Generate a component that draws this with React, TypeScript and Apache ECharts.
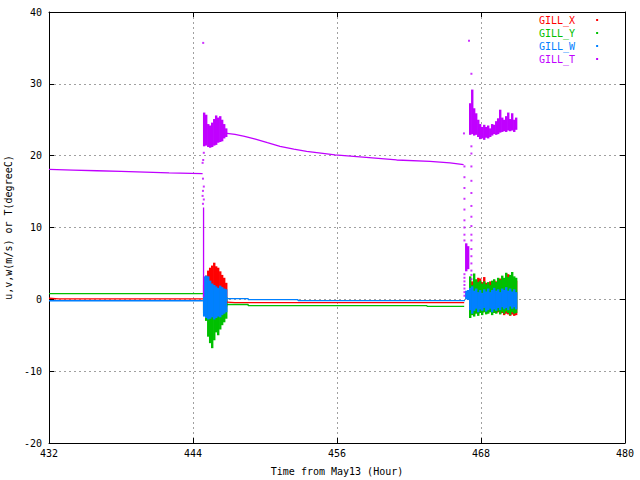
import React, { useEffect, useRef } from "react";
import * as echarts from "echarts";

// ---- axis ticks ----
const X_MIN = 432;
const X_MAX = 480;
const X_STEP = 12;
const Y_MIN = -20;
const Y_MAX = 40;
const Y_STEP = 10;

// ---- quiet (smooth) segments: time (hour) and value ----
const X_PRE_TIME = [432, 432.8, 444.83];
const X_PRE = [0.15, 0.05, 0.05];
const X_POST_TIME = [446.83, 447.5, 466.6];
const X_POST = [-0.38, -0.45, -0.45];

const Y_PRE_TIME = [432, 444.83];
const Y_PRE = [0.8, 0.8];
const Y_POST_TIME = [446.83, 448.6, 448.6, 463.5, 463.5, 466.6];
const Y_POST = [-0.72, -0.72, -0.88, -0.88, -0.98, -0.98];

const W_PRE_TIME = [432, 444.83];
const W_PRE = [-0.2, -0.2];
const W_POST_TIME = [446.83, 448.6, 448.6, 452.75, 452.75, 466.67];
const W_POST = [0.1, 0.1, -0.03, -0.03, -0.17, -0.17];

const T_PRE_TIME = [432, 434, 436, 438, 440, 442, 444.8];
const T_PRE = [18.1, 18.0, 17.9, 17.8, 17.7, 17.6, 17.5];
const T_FALL_TIME = [444.88, 444.88];
const T_FALL = [12.8, 0.3];
const T_DECAY_TIME = [446.83, 447.5, 448.3, 449.2, 450.2, 451.25, 452.4, 453.47, 455.83, 458.17, 460.97, 463.75, 465.42, 466.55];
const T_DECAY = [23.1, 22.95, 22.7, 22.3, 21.8, 21.3, 20.9, 20.6, 20.1, 19.8, 19.4, 19.2, 19.0, 18.75];

// ---- noisy periods: sample start times, each covering BAND_STEP hours ----
const BAND_STEP = 1 / 6;
const BAND1_TIME = [444.83, 445.0, 445.17, 445.33, 445.5, 445.67, 445.83, 446.0, 446.17, 446.33, 446.5, 446.67];
const BAND2_TIME = [466.67, 466.83, 467.0, 467.17, 467.33, 467.5, 467.67, 467.83, 468.0, 468.17, 468.33, 468.5, 468.67, 468.83, 469.0, 469.17, 469.33, 469.5, 469.67, 469.83, 470.0, 470.17, 470.33, 470.5, 470.67, 470.83];

const X_BAND1_HI = [2.0, 3.3, 4.0, 4.4, 4.7, 5.1, 4.6, 4.4, 3.9, 3.4, 3.0, 2.3];
const X_BAND1_LO = [-1.5, -2.0, -2.2, -2.5, -2.3, -2.0, -2.4, -2.0, -1.8, -1.5, -1.2, -1.0];
const Y_BAND1_HI = [1.0, 1.2, 1.0, 0.8, 1.0, 1.2, 0.9, 1.0, 0.8, 0.6, 0.5, 0.3];
const Y_BAND1_LO = [-2.0, -3.0, -5.2, -6.1, -6.8, -5.7, -4.6, -5.0, -4.2, -3.6, -3.2, -2.7];
const W_BAND1_HI = [3.2, 3.3, 3.2, 2.6, 2.2, 2.0, 1.8, 1.6, 1.9, 1.7, 1.5, 1.4];
const W_BAND1_LO = [-2.4, -2.6, -2.8, -2.7, -2.5, -2.8, -2.6, -2.4, -2.5, -2.2, -2.0, -1.8];
const T_BAND1_HI = [26.0, 25.7, 24.4, 24.2, 24.6, 25.1, 25.6, 25.3, 25.5, 25.0, 24.4, 23.8];
const T_BAND1_LO = [21.3, 21.4, 21.2, 21.1, 21.2, 21.4, 21.5, 21.8, 21.9, 22.0, 22.4, 22.6];

const X_BAND2_HI = [null, null, 2.0, 2.5, 2.2, 2.6, 3.0, 2.9, 2.4, 3.1, 2.3, 2.2, 2.5, 2.3, 2.6, 2.5, 2.7, 2.9, 2.8, 2.6, 3.6, 3.5, 2.9, 3.0, 2.8, 2.6];
const X_BAND2_LO = [null, null, -1.8, -2.0, -2.1, -1.9, -2.0, -1.8, -1.9, -1.7, -2.0, -1.8, -1.7, -1.9, -1.8, -1.9, -1.8, -2.0, -1.9, -2.2, -2.0, -2.1, -2.3, -2.1, -2.3, -2.2];
const Y_BAND2_HI = [null, null, 3.2, 2.0, 3.6, 2.8, 2.4, 2.6, 2.2, 2.5, 2.1, 2.4, 2.0, 2.6, 2.8, 2.4, 3.0, 2.7, 3.3, 3.0, 3.7, 3.1, 3.4, 3.8, 3.2, 3.0];
const Y_BAND2_LO = [null, null, -2.6, -2.2, -2.4, -2.0, -2.3, -1.9, -2.2, -1.8, -2.1, -2.0, -1.8, -2.2, -1.9, -2.0, -1.7, -2.1, -1.8, -2.0, -1.7, -1.9, -2.2, -1.8, -2.0, -1.9];
const W_BAND2_HI = [1.2, 1.3, 1.6, 1.8, 1.2, 1.5, 1.0, 1.3, 0.9, 1.4, 1.1, 1.5, 1.0, 1.3, 1.6, 1.2, 1.4, 1.0, 1.5, 1.3, 1.7, 1.2, 1.5, 1.1, 1.4, 1.0];
const W_BAND2_LO = [0.0, -0.1, -1.5, -2.0, -1.6, -1.3, -1.8, -1.4, -1.6, -1.2, -1.7, -1.5, -1.3, -1.8, -1.4, -1.6, -1.2, -1.5, -1.1, -1.4, -1.2, -1.5, -1.0, -1.3, -1.1, -1.4];
const T_BAND2_HI = [7.8, 7.4, 27.3, 29.2, 26.6, 25.9, 25.0, 24.4, 24.0, 24.3, 24.0, 24.2, 23.8, 24.4, 24.3, 24.8, 25.2, 26.4, 25.3, 25.0, 25.5, 26.0, 25.1, 25.9, 25.0, 25.3];
const T_BAND2_LO = [3.9, 4.2, 22.9, 23.0, 22.8, 22.9, 22.6, 22.3, 22.4, 22.2, 22.5, 22.4, 22.6, 22.8, 23.0, 22.9, 23.0, 23.2, 23.3, 23.4, 23.3, 23.5, 23.4, 23.5, 23.3, 23.6];

// ---- isolated temperature dots (transitions / outliers) ----
const T_DOT_TIME = [
  444.85, 444.9, 444.8, 444.85, 444.83, 444.9, 444.83, 444.8, 444.9, 444.83,
  466.62, 466.62, 466.62, 466.62, 466.62, 466.62, 466.62, 466.62, 466.62, 466.62, 466.62, 466.62, 466.62, 466.62, 466.62, 466.62,
  467.0, 467.2, 467.2, 467.2, 467.2, 467.2, 467.2, 467.2, 467.2, 467.2, 467.2, 467.2, 467.2, 467.2, 467.2, 467.2, 467.2, 467.2,
  466.58,
];
const T_DOT_VALUE = [
  35.7, 20.4, 19.0, 19.4, 16.8, 15.7, 15.1, 14.4, 13.9, 13.3,
  18.5, 17.0, 15.5, 14.0, 12.5, 11.0, 10.0, 9.0, 8.2, 3.5, 3.0, 2.5, 2.0, 1.5, 1.0, 0.5,
  36.0, 31.4, 21.3, 20.3, 18.5, 16.5, 14.8, 13.0, 11.5, 10.2, 9.0, 8.2, 7.0, 6.0, 5.0, 4.0, 3.4, 2.8,
  23.1,
];

const RED = "#ff0000";
const GREEN = "#00c000";
const BLUE = "#0080ff";
const PURPLE = "#c000ff";
const FONT = "DejaVu Sans Mono";

const zip = (ts: number[], vs: number[]) => ts.map((t, i) => [t, vs[i]]);
const bandData = (ts: number[], lo: (number | null)[], hi: (number | null)[]) =>
  ts
    .map((t, i) => [t, lo[i], hi[i], BAND_STEP])
    .filter((d) => d[1] !== null && d[2] !== null);

function lineSeries(name: string, color: string, data: number[][]) {
  return {
    type: "line",
    name,
    data,
    symbol: "none",
    showSymbol: false,
    silent: true,
    clip: true,
    itemStyle: { color },
    lineStyle: { color, width: 1.3 },
  };
}

function bandSeries(name: string, color: string, data: any[]) {
  return {
    type: "custom",
    name,
    data,
    silent: true,
    clip: true,
    itemStyle: { color },
    encode: { x: 0, y: [1, 2] },
    renderItem: (params: any, api: any) => {
      const t = api.value(0);
      const lo = api.value(1);
      const hi = api.value(2);
      const w = api.value(3);
      const p1 = api.coord([t, hi]);
      const p2 = api.coord([t + w, lo]);
      return {
        type: "rect",
        shape: { x: p1[0], y: p1[1], width: p2[0] - p1[0] + 0.4, height: Math.max(1, p2[1] - p1[1]) },
        style: { fill: color },
      };
    },
  };
}

export default function App() {
  const ref = useRef<HTMLDivElement>(null);

  useEffect(() => {
    if (!ref.current) return;
    const chart = echarts.init(ref.current, null, { renderer: "svg" });

    const labelStyle = { fontFamily: FONT, fontSize: 10, color: "#000" };
    const tick = { show: true, inside: true, length: 5, lineStyle: { color: "#000", width: 1 } };
    const axisLine = { show: true, onZero: false, lineStyle: { color: "#000", width: 1 } };
    const split = {
      show: true,
      showMinLine: false,
      showMaxLine: false,
      lineStyle: { color: "#a0a0a0", type: [2, 3], width: 1 },
    };

    const series: any[] = [
      lineSeries("GILL_X", RED, zip(X_PRE_TIME, X_PRE)),
      lineSeries("GILL_X", RED, zip(X_POST_TIME, X_POST)),
      bandSeries("GILL_X", RED, bandData(BAND1_TIME, X_BAND1_LO, X_BAND1_HI)),
      bandSeries("GILL_X", RED, bandData(BAND2_TIME, X_BAND2_LO, X_BAND2_HI)),
      lineSeries("GILL_Y", GREEN, zip(Y_PRE_TIME, Y_PRE)),
      lineSeries("GILL_Y", GREEN, zip(Y_POST_TIME, Y_POST)),
      bandSeries("GILL_Y", GREEN, bandData(BAND1_TIME, Y_BAND1_LO, Y_BAND1_HI)),
      bandSeries("GILL_Y", GREEN, bandData(BAND2_TIME, Y_BAND2_LO, Y_BAND2_HI)),
      lineSeries("GILL_W", BLUE, zip(W_PRE_TIME, W_PRE)),
      lineSeries("GILL_W", BLUE, zip(W_POST_TIME, W_POST)),
      bandSeries("GILL_W", BLUE, bandData(BAND1_TIME, W_BAND1_LO, W_BAND1_HI)),
      bandSeries("GILL_W", BLUE, bandData(BAND2_TIME, W_BAND2_LO, W_BAND2_HI)),
      lineSeries("GILL_T", PURPLE, zip(T_PRE_TIME, T_PRE)),
      lineSeries("GILL_T", PURPLE, zip(T_FALL_TIME, T_FALL)),
      lineSeries("GILL_T", PURPLE, zip(T_DECAY_TIME, T_DECAY)),
      bandSeries("GILL_T", PURPLE, bandData(BAND1_TIME, T_BAND1_LO, T_BAND1_HI)),
      bandSeries("GILL_T", PURPLE, bandData(BAND2_TIME, T_BAND2_LO, T_BAND2_HI)),
      {
        type: "scatter",
        name: "GILL_T",
        data: zip(T_DOT_TIME, T_DOT_VALUE),
        symbol: "rect",
        symbolSize: 2,
        silent: true,
        itemStyle: { color: PURPLE },
      },
    ];

    chart.setOption({
      animation: false,
      backgroundColor: "#ffffff",
      textStyle: { fontFamily: FONT },
      grid: { left: 49, right: 15, top: 12, bottom: 37, containLabel: false, outerBoundsMode: "none" },
      legend: {
        show: true,
        orient: "vertical",
        left: 539,
        top: 14,
        padding: 0,
        itemGap: 1,
        align: "right",
        icon: "rect",
        itemWidth: 2,
        itemHeight: 2,
        selectedMode: false,
        textStyle: { fontFamily: FONT, fontSize: 10, lineHeight: 12, padding: [0, 16, 0, 0] },
        data: [
          { name: "GILL_X", textStyle: { color: RED }, itemStyle: { color: RED } },
          { name: "GILL_Y", textStyle: { color: GREEN }, itemStyle: { color: GREEN } },
          { name: "GILL_W", textStyle: { color: BLUE }, itemStyle: { color: BLUE } },
          { name: "GILL_T", textStyle: { color: PURPLE }, itemStyle: { color: PURPLE } },
        ],
      },
      xAxis: [
        {
          type: "value",
          position: "bottom",
          min: X_MIN,
          max: X_MAX,
          interval: X_STEP,
          axisLine,
          axisTick: tick,
          axisLabel: { ...labelStyle, margin: 5 },
          splitLine: split,
          name: "Time from May13 (Hour)",
          nameLocation: "middle",
          nameGap: 23,
          nameTextStyle: labelStyle,
        },
        {
          type: "value",
          position: "top",
          min: X_MIN,
          max: X_MAX,
          interval: X_STEP,
          axisLine,
          axisTick: tick,
          axisLabel: { show: false },
          splitLine: { show: false },
        },
      ],
      yAxis: [
        {
          type: "value",
          position: "left",
          min: Y_MIN,
          max: Y_MAX,
          interval: Y_STEP,
          axisLine,
          axisTick: tick,
          axisLabel: { ...labelStyle, margin: 7 },
          splitLine: split,
          name: "u,v,w(m/s) or T(degreeC)",
          nameLocation: "middle",
          nameGap: 29,
          nameRotate: 90,
          nameTextStyle: labelStyle,
        },
        {
          type: "value",
          position: "right",
          min: Y_MIN,
          max: Y_MAX,
          interval: Y_STEP,
          axisLine,
          axisTick: tick,
          axisLabel: { show: false },
          splitLine: { show: false },
        },
      ],
      series,
    });

    return () => chart.dispose();
  }, []);

  return (
    <div
      ref={ref}
      style={{ position: "fixed", left: 0, top: 0, width: 640, height: 480, background: "#fff" }}
    />
  );
}
